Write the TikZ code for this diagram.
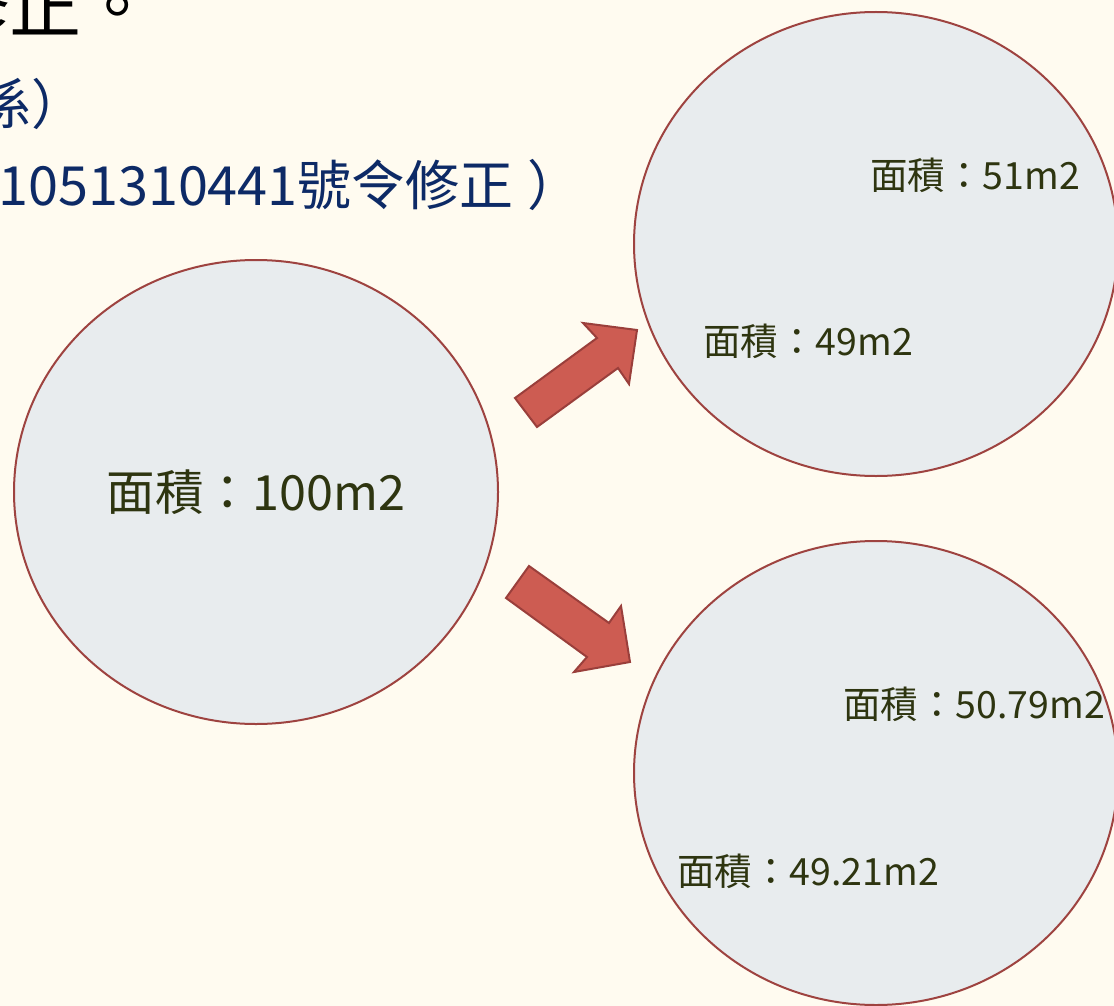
\documentclass[tikz,border=0pt]{standalone}
\usepackage{fontspec}
\setmainfont{Noto Sans CJK TC}
\definecolor{bgc}{HTML}{FFFBF0}
\definecolor{circfill}{HTML}{E8ECEE}
\definecolor{circline}{HTML}{9E4340}
\definecolor{arrfill}{HTML}{CD5C52}
\definecolor{arrline}{HTML}{9A3F3B}
\definecolor{labc}{HTML}{2E3510}
\definecolor{bluec}{HTML}{0D2A66}
\tikzset{
  area/.style={draw=circline, line width=2pt, fill=circfill},
  blockarrow/.style={draw=arrline, line width=2pt, fill=arrfill, line join=miter},
  lab/.style={text=labc, inner sep=0pt, font=\fontsize{37.5}{40}\selectfont},
  biglab/.style={text=labc, inner sep=0pt, font=\fontsize{48.5}{52}\selectfont},
  bluetxt/.style={text=bluec, inner sep=0pt, font=\fontsize{54}{60}\selectfont},
}
\begin{document}
\begin{tikzpicture}[x=1pt,y=-1pt]
\fill[bgc] (0,0) rectangle (1114,1006);
\useasboundingbox (0,0) rectangle (1114,1006);
\clip (0,0) rectangle (1114,1006);
% header text (cut off at the top and left)
\node[anchor=base east, inner sep=0pt, font=\fontsize{72}{76}\selectfont] (h1) at (154,33) {修正。};
\node[bluetxt, anchor=base east] (h2) at (86,125) {係）};
\node[bluetxt, anchor=base west] (h3) at (-2,205) {1051310441號令修正\hspace{14pt}）};
% circles
\draw[area] (256,492) ellipse [x radius=242, y radius=232];
\draw[area] (876,244) ellipse [x radius=242, y radius=232];
\draw[area] (876,773) ellipse [x radius=242, y radius=232];
% labels
\node[biglab] (a0) at (256,492) {面積：100m2};
\node[lab] (a1) at (975,175) {面積：51m2};
\node[lab] (a2) at (808,341) {面積：49m2};
\node[lab] (a3) at (974,704) {面積：50.79m2};
\node[lab] (a4) at (808,871) {面積：49.21m2};
% block arrows
\draw[blockarrow] (515,398) -- (537,427) -- (618,368) -- (629,384) -- (637,330) -- (583,323) -- (597,338) -- cycle;
\draw[blockarrow] (529,566) -- (506,598) -- (587,657) -- (574,672) -- (630,662) -- (621,606) -- (609,623) -- cycle;
\end{tikzpicture}
\end{document}
